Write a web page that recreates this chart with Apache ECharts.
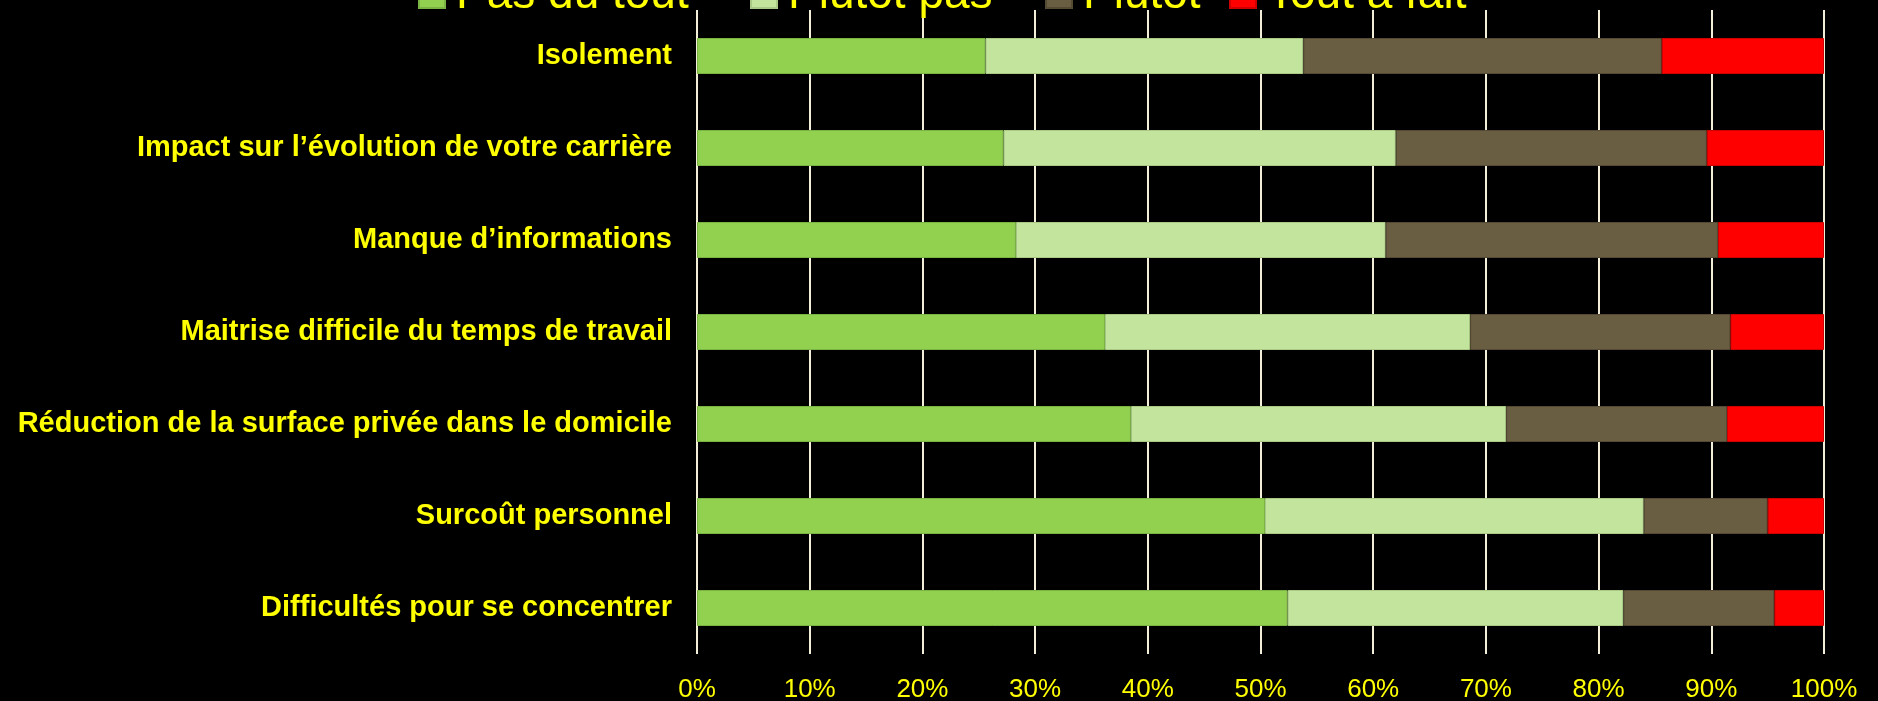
<!DOCTYPE html>
<html>
<head>
<meta charset="utf-8">
<script src="https://cdn.jsdelivr.net/npm/echarts@6/dist/echarts.min.js"></script>
<style>
  html, body { margin: 0; padding: 0; background: #000; }
  #chart { width: 1878px; height: 701px; }
</style>
</head>
<body>
<div id="chart"></div>
<script>
// categories, listed top to bottom
const categories = [
  'Isolement',
  'Impact sur l\u2019évolution de votre carrière',
  'Manque d\u2019informations',
  'Maitrise difficile du temps de travail',
  'Réduction de la surface privée dans le domicile',
  'Surcoût personnel',
  'Difficultés pour se concentrer'
];
const seriesNames = ['Pas du tout', 'Plutôt pas', 'Plutôt', 'Tout à fait'];
// share of answers, in %
const pasDuTout = [25.6, 27.2, 28.3, 36.2, 38.5, 50.4, 52.4];
const plutotPas = [28.2, 34.8, 32.8, 32.4, 33.3, 33.6, 29.8];
const plutot = [31.8, 27.6, 29.5, 23.1, 19.6, 11.0, 13.4];
const toutAFait = [14.4, 10.4, 9.4, 8.3, 8.6, 5.0, 4.4];
const xTicks = [0, 10, 20, 30, 40, 50, 60, 70, 80, 90, 100];

const colors = ['#92d050', '#c2e49c', '#695e42', '#ff0000'];
const borders = ['#7cb444', '#a9c987', '#554b34', '#d00000'];
// left edge of each legend entry (the legend sits half off the top)
const legendLeft = [413, 745, 1040, 1224];

const chart = echarts.init(document.getElementById('chart'));

const values = [pasDuTout, plutotPas, plutot, toutAFait];
const series = seriesNames.map((name, i) => ({
  name: name,
  type: 'bar',
  stack: 'total',
  barWidth: 36,
  itemStyle: {
    color: colors[i],
    borderColor: borders[i],
    borderWidth: 1
  },
  data: values[i]
}));

const legends = seriesNames.map((name, i) => ({
  data: [name],
  left: legendLeft[i],
  top: -33,
  icon: 'rect',
  itemWidth: 26,
  itemHeight: 26,
  textStyle: {
    color: '#ffff00',
    fontSize: 46,
    fontFamily: 'Liberation Sans',
    padding: [0, 0, 0, 6]
  }
}));

chart.setOption({
  backgroundColor: '#000',
  animation: false,
  legend: legends,
  grid: {
    left: 697,
    right: 54,
    top: 10,
    bottom: 47,
    containLabel: false,
    outerBoundsMode: 'none'
  },
  xAxis: {
    type: 'value',
    min: xTicks[0],
    max: xTicks[xTicks.length - 1],
    interval: 10,
    axisLine: { show: false },
    axisTick: { show: false },
    splitLine: {
      show: true,
      lineStyle: { color: '#f2eed8', width: 2 }
    },
    axisLabel: {
      color: '#ffff00',
      fontSize: 26,
      fontFamily: 'Liberation Sans',
      margin: 23,
      formatter: '{value}%'
    }
  },
  yAxis: {
    type: 'category',
    inverse: true,
    data: categories,
    axisLine: { show: false },
    axisTick: { show: false },
    axisLabel: {
      color: '#ffff00',
      fontSize: 29,
      fontWeight: 'bold',
      fontFamily: 'Liberation Sans',
      margin: 25
    }
  },
  series: series
});
</script>
</body>
</html>
